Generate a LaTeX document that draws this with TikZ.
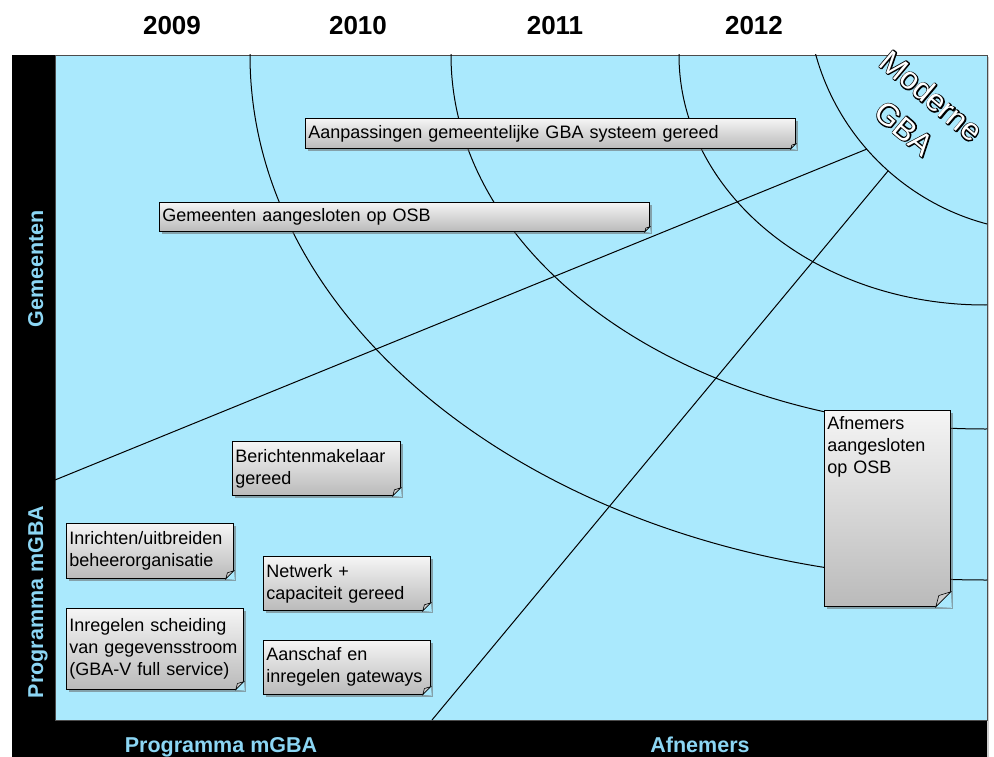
\documentclass[tikz,border=0pt]{standalone}
\usepackage{fontspec}
\setmainfont{Liberation Sans}
\usetikzlibrary{positioning, shadows, calc}
\usepackage{xcolor}

\definecolor{chartblue}{RGB}{170,233,253}
\definecolor{barblue}{RGB}{140,214,244}

% white text with a black outline: stroked copy under a filled one
\newcommand{\outlinetext}[1]{\makebox[0pt][l]{\special{pdf:literal direct 1 Tr 2.2 w 1 j 1 J 0 0 0 RG}#1\special{pdf:literal direct 0 Tr}}\textcolor{white}{#1}}

\begin{document}
\begin{tikzpicture}[
    x=1pt, y=-1pt,
    note/.style={rectangle, draw=black, line width=0.8pt, anchor=north west,
        top color=black!4, bottom color=black!27,
        drop shadow={shadow xshift=2.5pt, shadow yshift=-2.5pt, fill=black!60, opacity=.55},
        inner xsep=3pt, inner ysep=3pt, align=left,
        font=\fontsize{18}{22}\selectfont},
    fold/.style={draw=black, line width=0.6pt, fill=black!20},
    curve/.style={line width=1pt},
    year/.style={anchor=base, font=\fontsize{26}{30}\selectfont\bfseries},
    axis/.style={anchor=base, text=barblue, font=\fontsize{21.5}{26}\selectfont\bfseries},
    moderne/.style={rotate=-40, align=center, font=\fontsize{31}{42}\selectfont}
]
    \useasboundingbox (0,0) rectangle (994,757);

    % Frame
    \fill[black, drop shadow={shadow xshift=2pt, shadow yshift=-2pt, opacity=.4}] (12,55) rectangle (987,757);
    \filldraw[fill=chartblue, draw=black!70, line width=0.6pt] (55,55) rectangle (987,720);

    % Years
    \node[year] (y2009) at (172,35) {2009};
    \node[year] (y2010) at (358,35) {2010};
    \node[year] (y2011) at (555,35) {2011};
    \node[year] (y2012) at (754,35) {2012};

    % Arcs and lines
    \begin{scope}
        \clip (55,55) rectangle (987,720);
        \draw[curve] (985,55) ellipse [x radius=735pt, y radius=525pt];
        \draw[curve] (985,55) ellipse [x radius=534pt, y radius=374pt];
        \draw[curve] (985,55) ellipse [x radius=306pt, y radius=250pt];
        \draw[curve] (1049,-10) circle [radius=242pt];
        \coordinate (gemstart) at (55,480);
        \coordinate (gemend) at (867,149);
        \coordinate (afnstart) at (432,720);
        \coordinate (afnend) at (888,171);
        \draw[curve] (gemstart) -- (gemend);
        \draw[curve] (afnstart) -- (afnend);
    \end{scope}

    % Gemeenten
    \node[note, text width=484pt, minimum height=30pt] (aanpas) at (305,118) {Aanpassingen gemeentelijke GBA systeem gereed};
    \node[note, text width=484pt, minimum height=29pt] (gemosb) at (159,202) {Gemeenten aangesloten op OSB};

    % Programma mGBA
    \node[note, text width=162pt, minimum height=54pt] (berichten) at (232,441) {Berichtenmakelaar\\gereed};
    \node[note, text width=161pt, minimum height=55pt] (inrichten) at (66,523) {Inrichten/uitbreiden\\beheerorganisatie};
    \node[note, text width=171pt, minimum height=81pt, below=29pt of inrichten.south west, anchor=north west] (inregelen) {Inregelen scheiding\\van gegevensstroom\\(GBA-V full service)};
    \node[note, text width=161pt, minimum height=54pt] (netwerk) at (263,556) {Netwerk +\\capaciteit gereed};
    \node[note, text width=161pt, minimum height=54pt, below=29pt of netwerk.south west, anchor=north west] (aanschaf) {Aanschaf en\\inregelen gateways};

    % Afnemers
    \node[note, text width=120pt, text height=16pt, text depth=174pt] (afnemers) at (824,410) {Afnemers\\aangesloten\\op OSB};

    % Folded corners
    \foreach \n/\d in {aanpas/5pt, gemosb/5pt, berichten/8pt, inrichten/8pt, netwerk/8pt, inregelen/8pt, aanschaf/8pt, afnemers/15pt} {
        \fill[chartblue] ([xshift=-\d]\n.south east) -- ([xshift=1pt, yshift=-1pt]\n.south east) -- ([yshift=\d]\n.south east) -- cycle;
        \draw[fold] ([xshift=-\d]\n.south east) -- ([yshift=\d]\n.south east) -- ([xshift=-0.8*\d, yshift=0.75*\d]\n.south east) -- cycle;
    }

    % Moderne GBA
    \node[moderne] (moderne) at (918,112) {\outlinetext{Moderne}\\\outlinetext{GBA}};

    % Axis labels
    \node[axis, rotate=90] (gemeenten) at (43,269) {Gemeenten};
    \node[axis, rotate=90] (progleft) at (43,602) {Programma mGBA};
    \node[axis] (progbottom) at (221,752) {Programma mGBA};
    \node[axis] (afnlabel) at (700,752) {Afnemers};

\end{tikzpicture}
\end{document}
